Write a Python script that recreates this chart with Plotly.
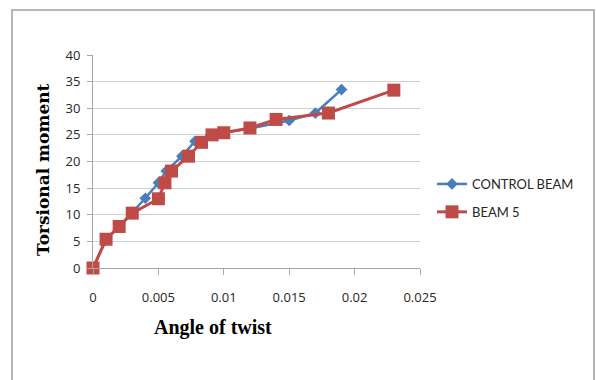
import plotly.graph_objects as go

control_x = [0, 0.001, 0.002, 0.003, 0.004, 0.005, 0.0056, 0.0068, 0.0078, 0.009, 0.010, 0.012, 0.015, 0.017, 0.019]
control_y = [0, 5.3, 7.8, 10.4, 13.1, 16.0, 18.2, 21.0, 23.8, 25.0, 25.4, 26.2, 27.7, 29.1, 33.5]

beam5_x = [0, 0.001, 0.002, 0.003, 0.005, 0.0055, 0.006, 0.0073, 0.0083, 0.0091, 0.010, 0.012, 0.014, 0.018, 0.023]
beam5_y = [0, 5.4, 7.8, 10.3, 13.0, 16.0, 18.2, 21.0, 23.6, 25.0, 25.4, 26.3, 27.9, 29.1, 33.4]

x_ticks = [0, 0.005, 0.01, 0.015, 0.02, 0.025]
x_tick_labels = ["0", "0.005", "0.01", "0.015", "0.02", "0.025"]
y_ticks = [0, 5, 10, 15, 20, 25, 30, 35, 40]

BLUE = "#4A7EBB"
RED = "#BE4B48"

fig = go.Figure()
fig.add_trace(go.Scatter(
    x=control_x, y=control_y, mode="lines+markers", name="CONTROL BEAM",
    legendgroup="a", cliponaxis=False,
    line=dict(color=BLUE, width=2.5),
    marker=dict(symbol="diamond", size=9, color=BLUE),
))
fig.add_trace(go.Scatter(
    x=beam5_x, y=beam5_y, mode="lines+markers", name="BEAM 5",
    legendgroup="b", cliponaxis=False,
    line=dict(color=RED, width=3),
    marker=dict(symbol="square", size=13, color=RED),
))

# plot-area pixel geometry
L, R, T, B = 93, 420, 55, 268
W, H = 596, 380
def px(xp):
    return (xp - L) / (R - L)
def py(yp):
    return (B - yp) / (B - T)

fig.update_layout(
    width=W, height=H,
    margin=dict(l=L, r=W - R, t=T, b=H - B, pad=0),
    paper_bgcolor="white", plot_bgcolor="white",
    showlegend=True,
    legend=dict(
        x=px(432), y=py(169), xanchor="left", yanchor="top",
        xref="paper", yref="paper",
        font=dict(family="Lato", size=13, color="#262626"),
        itemwidth=30, tracegroupgap=8,
        bgcolor="rgba(0,0,0,0)",
    ),
    xaxis=dict(
        range=[0, 0.025], tickvals=x_ticks, ticktext=x_tick_labels,
        showgrid=False, showline=True, linecolor="#A6A6A6", linewidth=1,
        ticks="outside", ticklen=6, tickcolor="#A6A6A6",
        tickfont=dict(family="Open Sans", size=13, color="#262626"),
        ticklabelstandoff=11, zeroline=False,
    ),
    yaxis=dict(
        range=[0, 40], tickvals=y_ticks,
        showgrid=True, gridcolor="#D0D0D0", gridwidth=1.3,
        showline=True, linecolor="#A6A6A6", linewidth=1,
        ticks="outside", ticklen=5, tickcolor="#A6A6A6",
        tickfont=dict(family="Open Sans", size=13, color="#262626"),
        ticklabelstandoff=4, zeroline=False,
    ),
    shapes=[dict(
        type="rect", xref="paper", yref="paper",
        x0=px(12), x1=px(594), y0=py(390), y1=py(10),
        line=dict(color="#A0A0A0", width=1.5), fillcolor="rgba(0,0,0,0)",
        layer="below",
    )],
    annotations=[
        dict(text="<b>Angle of twist</b>", xref="paper", yref="paper",
             x=px(213), y=py(341), showarrow=False,
             font=dict(family="Liberation Serif", size=20, color="black")),
        dict(text="<b>Torsional moment</b>", xref="paper", yref="paper",
             x=px(31), y=py(170), showarrow=False, textangle=-90,
             font=dict(family="DejaVu Serif", size=17, color="black")),
    ],
)

fig.write_html("out.html")
